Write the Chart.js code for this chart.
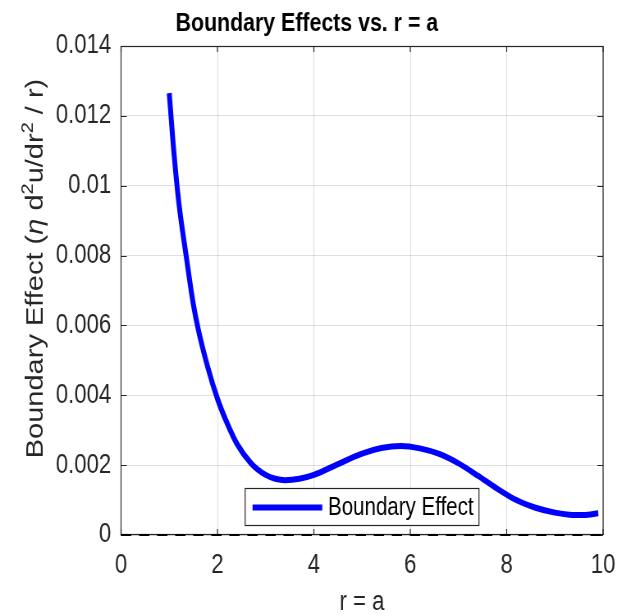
<!DOCTYPE html>
<html>
<head>
<meta charset="utf-8">
<script src="https://cdn.jsdelivr.net/npm/chart.js@4.4.1/dist/chart.umd.min.js"></script>
<style>
  html, body { margin: 0; padding: 0; background: #fff; overflow: hidden; }
  /* the reference figure is squeezed horizontally, so draw wide and squeeze */
  #myChart { transform: scaleX(0.8205); transform-origin: 0 0; display: block; }
</style>
</head>
<body>
<canvas id="myChart" width="752" height="616" style="width:752px;height:616px"></canvas>
<script>
// values
const rValues = [1.0, 1.1, 1.2, 1.35, 1.5, 1.6, 1.8, 2.0, 2.2, 2.4, 2.7, 3.0, 3.2, 3.4, 3.7, 4.0,
                 4.5, 5.0, 5.4, 5.8, 6.2, 6.6, 7.0, 7.4, 7.8, 8.2, 8.6, 9.0, 9.3, 9.6, 9.9]
const effectValues = [0.01265, 0.0109, 0.0095, 0.0080, 0.0066, 0.0059, 0.0048, 0.0039, 0.0032, 0.00262,
                      0.00205, 0.00172, 0.00161, 0.00157, 0.00161, 0.00172, 0.00203, 0.00233, 0.00249,
                      0.00255, 0.00248, 0.00232, 0.00205, 0.00170, 0.00133, 0.00100, 0.00078, 0.00064,
                      0.00058, 0.00057, 0.00062]
const zeroLineX = [0, 10]
const zeroLineY = [0, 0]
const xTickLabels = ['0', '2', '4', '6', '8', '10']
const yTickLabels = ['0', '0.002', '0.004', '0.006', '0.008', '0.01', '0.012', '0.014']

const sans = "'Liberation Sans', Arial, sans-serif"
const axisColor = '#262626'

var effectData = rValues.map((r, i) => ({x: r, y: effectValues[i]}))
var zeroData = zeroLineX.map((r, i) => ({x: r, y: zeroLineY[i]}))

// MATLAB-ish box, inward ticks, y label with superscripts and inset legend
const matlabAxes = {
  id: 'matlabAxes',
  beforeDatasetsDraw(chart) {
    const {ctx, chartArea: a, scales: {x, y}} = chart
    ctx.save()
    ctx.strokeStyle = axisColor
    ctx.lineWidth = 1.2
    ctx.beginPath()
    x.ticks.forEach((t) => {
      let px = x.getPixelForValue(t.value)
      ctx.moveTo(px, a.bottom); ctx.lineTo(px, a.bottom - 6)
      ctx.moveTo(px, a.top); ctx.lineTo(px, a.top + 6)
    })
    y.ticks.forEach((t) => {
      let py = Math.round(y.getPixelForValue(t.value)) + 0.5
      ctx.moveTo(a.left, py); ctx.lineTo(a.left + 7, py)
      ctx.moveTo(a.right, py); ctx.lineTo(a.right - 7, py)
    })
    ctx.stroke()
    ctx.strokeRect(a.left, a.top + 0.5, a.width, a.height - 1)
    ctx.restore()
  },
  afterDraw(chart) {
    const {ctx, chartArea: a} = chart

    // y axis label
    const size = 29
    const parts = [
      {t: 'Boundary Effect (', sup: false, it: false},
      {t: 'η', sup: false, it: true},
      {t: ' d', sup: false, it: false},
      {t: '2', sup: true, it: false},
      {t: 'u/dr', sup: false, it: false},
      {t: '2', sup: true, it: false},
      {t: ' / r)', sup: false, it: false},
    ]
    const fontFor = (p) => (p.it ? 'italic ' : '') + Math.round(p.sup ? size * 0.7 : size) + 'px ' + sans
    ctx.save()
    let total = 0
    parts.forEach((p) => { ctx.font = fontFor(p); p.w = ctx.measureText(p.t).width; total += p.w })
    ctx.translate(52, a.top + a.height / 2 - 22)
    ctx.rotate(-Math.PI / 2)
    ctx.fillStyle = axisColor
    ctx.textBaseline = 'alphabetic'
    ctx.textAlign = 'left'
    let cx = -total / 2
    parts.forEach((p) => {
      ctx.font = fontFor(p)
      ctx.fillText(p.t, cx, p.sup ? -size * 0.42 : 0)
      cx += p.w
    })
    ctx.restore()

    // legend box inside the axes, south
    const w = 285, h = 37
    const lx = (a.left + a.right) / 2 - w / 2
    const ly = Math.round(a.bottom - 10 - h) + 0.5
    ctx.save()
    ctx.fillStyle = '#ffffff'
    ctx.fillRect(lx, ly, w, h)
    ctx.strokeStyle = axisColor
    ctx.lineWidth = 1.2
    ctx.strokeRect(lx, ly, w, h)
    ctx.strokeStyle = '#0000ff'
    ctx.lineWidth = 6
    ctx.beginPath()
    ctx.moveTo(lx + 9, ly + 19)
    ctx.lineTo(lx + 94, ly + 19)
    ctx.stroke()
    ctx.fillStyle = '#000000'
    ctx.font = '25px ' + sans
    ctx.textBaseline = 'middle'
    ctx.fillText(chart.data.datasets[0].label, lx + 101, ly + 20)
    ctx.restore()
  }
}

var ctx = document.getElementById('myChart')
var line = new Chart(ctx, {
  type: 'line',
  data: {
    datasets: [
      {
        label: 'Boundary Effect',
        data: effectData,
        borderColor: '#0000ff',
        backgroundColor: '#0000ff',
        borderWidth: 6,
        pointRadius: 0,
        fill: false,
        cubicInterpolationMode: 'monotone',
        order: 1,
      },
      {
        label: 'zero',
        data: zeroData,
        borderColor: '#000000',
        borderWidth: 2,
        borderDash: [12.5, 9.5],
        pointRadius: 0,
        fill: false,
        clip: 4,
        order: 0,
      },
    ],
  },
  options: {
    responsive: false,
    animation: false,
    devicePixelRatio: 1,
    layout: {
      padding: {top: 0, right: 17, left: 13, bottom: 0}
    },
    scales: {
      x: {
        type: 'linear',
        min: 0,
        max: 10,
        afterFit: (scale) => {
          scale.height = 81
          scale.paddingLeft = 0
          scale.paddingRight = 0
        },
        ticks: {
          stepSize: 2,
          padding: 14,
          color: axisColor,
          font: {family: sans, size: 27},
          callback: (value, index) => xTickLabels[index],
        },
        grid: {color: 'rgba(38,38,38,0.15)', drawTicks: false},
        border: {display: false},
        title: {
          display: true,
          text: 'r = a',
          color: axisColor,
          font: {family: sans, size: 27, lineHeight: 1},
          padding: {top: 0, bottom: 0},
        },
      },
      y: {
        min: 0,
        max: 0.014,
        afterFit: (scale) => { scale.width = 134.5 },
        ticks: {
          stepSize: 0.002,
          padding: 12,
          color: axisColor,
          font: {family: sans, size: 27},
          callback: (value, index) => yTickLabels[index],
        },
        grid: {color: 'rgba(38,38,38,0.15)', drawTicks: false},
        border: {display: false},
      },
    },
    plugins: {
      legend: {display: false},
      tooltip: {enabled: false},
      title: {
        display: true,
        text: 'Boundary Effects vs. r = a',
        color: '#000000',
        font: {family: sans, size: 26, weight: 'bold', lineHeight: 1.2},
        padding: {top: 8, bottom: 6.8},
      },
    },
  },
  plugins: [matlabAxes],
})
</script>
</body>
</html>
